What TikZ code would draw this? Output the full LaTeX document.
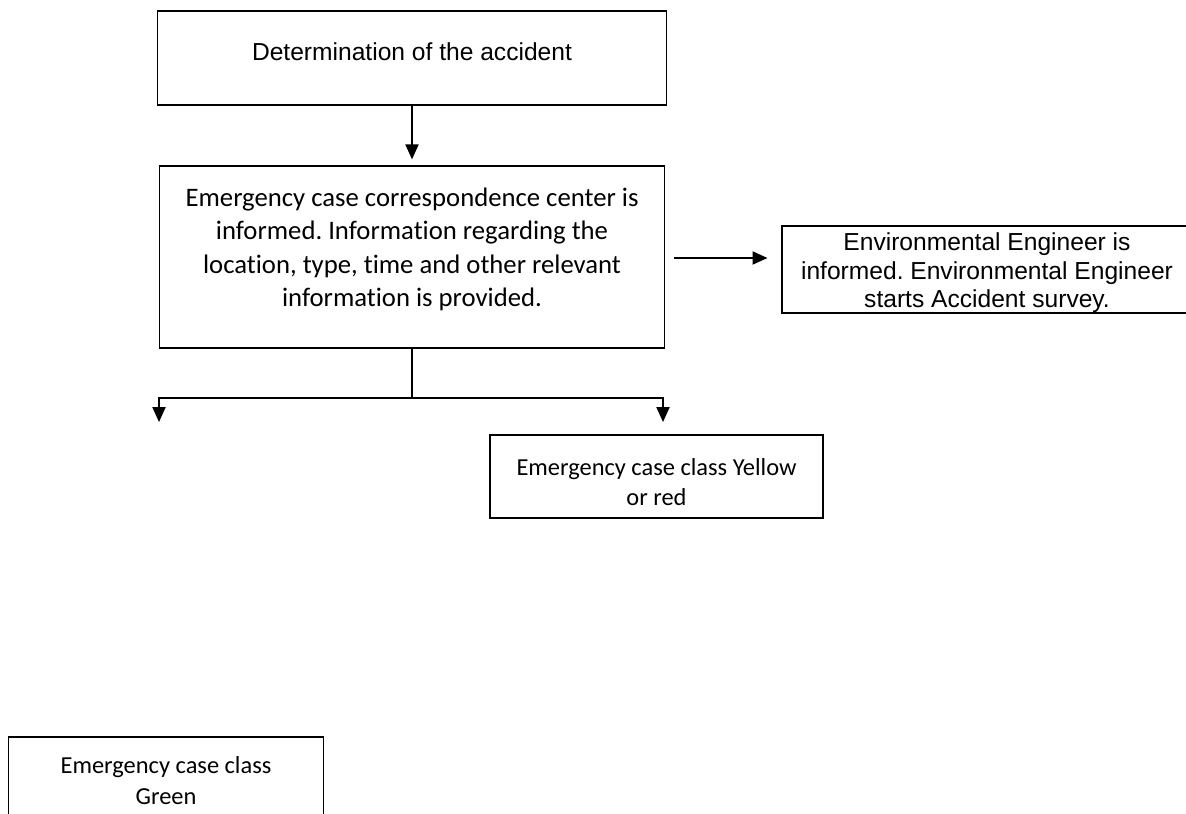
\documentclass[tikz,border=0pt]{standalone}
\usepackage{fontspec}
\setmainfont{Carlito}[Ligatures=NoCommon]
\newfontfamily\arialfont{Liberation Sans}
\usetikzlibrary{arrows.meta}
\frenchspacing
\newcommand{\padbot}[1]{\rule[-#1]{0pt}{0pt}}
\newcommand{\padtop}[1]{\rule{0pt}{#1}}
\tikzset{
    every node/.style={rectangle, draw, line width=.8pt, inner sep=0mm, align=center}
}
\tikzset{arr/.style={line width=.8pt, -{Triangle[length=8.5pt,width=7.5pt]}}}
\tikzset{arialtext/.style={font=\arialfont\fontsize{14}{16.2}\selectfont}}
\tikzset{calibritext/.style={font=\fontsize{15.2}{19}\selectfont}}
\tikzset{smalltext/.style={font=\fontsize{13.9}{17.4}\selectfont}}

\begin{document}
\begin{tikzpicture}[x=0.02cm, y=-0.02cm]
        \useasboundingbox (0,0) rectangle (1186,814);
        \clip (0,0) rectangle (1186,814);
        \node (det) [arialtext, text height=10pt, text depth=6.6pt, minimum width=10.18cm, minimum height=1.88cm] at (412, 58) {Determination of the accident};
        \node (inform) [calibritext, minimum width=10.1cm, minimum height=3.64cm] at (412, 257) {Emergency case correspondence center is\\informed. Information regarding the\\location, type, time and other relevant\\information is provided.\padbot{11pt}};
        \node (env) [arialtext, minimum width=8.2cm, minimum height=1.74cm] at (987, 269.5) {\padtop{14pt}Environmental Engineer is\\informed. Environmental Engineer\\starts Accident survey.};
        \node (yellow) [smalltext, minimum width=6.66cm, minimum height=1.66cm] at (656.5, 476.5) {\padtop{16pt}Emergency case class Yellow\\or red};
        \node (green) [smalltext, minimum width=6.3cm, minimum height=1.66cm] at (166, 778.5) {\padtop{12pt}Emergency case class\\Green};
        \coordinate (split) at (412, 398);
        \coordinate (gtip) at (159, 422);
        \coordinate (ytip) at (663, 422);
        \draw (det) edge [arr, shorten >=3.4pt] (inform);
        \draw ([xshift=5.1pt]inform.east |- 0,258) edge [arr, shorten >=7.9pt] (env.west |- 0,258);
        \draw [line width=.8pt] (inform) -- (split);
        \draw [arr] (split) -| (gtip);
        \draw [arr] (split) -| (ytip);
\end{tikzpicture}
\end{document}
